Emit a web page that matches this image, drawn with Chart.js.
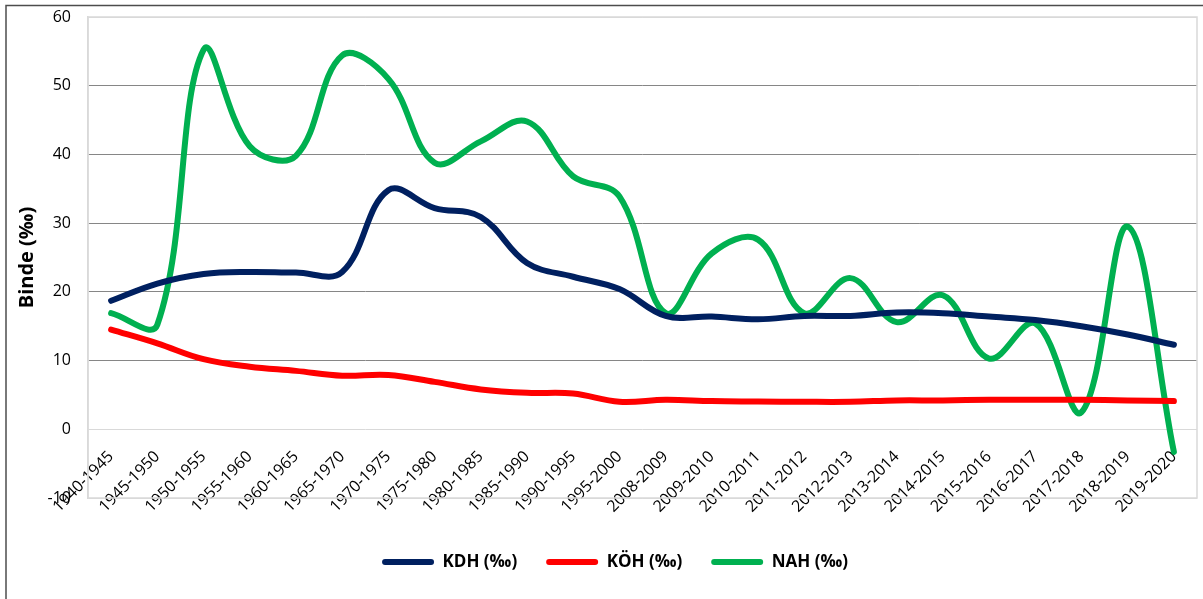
<!DOCTYPE html>
<html>
<head>
<meta charset="utf-8">
<script src="https://cdn.jsdelivr.net/npm/chart.js@4.4.1/dist/chart.umd.min.js"></script>
<style>
  html, body { margin: 0; padding: 0; background: #fff; }
  #wrap { width: 1203px; height: 599px; position: relative; }
</style>
</head>
<body>
<div id="wrap"><canvas id="chart"></canvas></div>
<script>
// periods on the x axis
const periods = ['1940-1945', '1945-1950', '1950-1955', '1955-1960', '1960-1965', '1965-1970',
    '1970-1975', '1975-1980', '1980-1985', '1985-1990', '1990-1995', '1995-2000',
    '2008-2009', '2009-2010', '2010-2011', '2011-2012', '2012-2013', '2013-2014',
    '2014-2015', '2015-2016', '2016-2017', '2017-2018', '2018-2019', '2019-2020'];

// values in per mille
const kdh = [18.7, 21.2, 22.6, 22.9, 22.8, 22.9, 34.8, 32.2, 30.9, 24.2, 22.2, 20.4,
    16.5, 16.4, 16.0, 16.5, 16.5, 17.0, 16.9, 16.4, 15.9, 15.0, 13.8, 12.3];
const koh = [14.5, 12.5, 10.2, 9.1, 8.5, 7.8, 7.9, 6.9, 5.8, 5.3, 5.2, 4.0,
    4.3, 4.1, 4.05, 4.0, 4.0, 4.2, 4.2, 4.3, 4.3, 4.3, 4.2, 4.1];
const nah = [16.9, 15.2, 55.2, 41.2, 39.8, 54.4, 51.0, 38.8, 41.9, 44.8, 36.8, 33.9,
    16.9, 25.6, 27.6, 16.9, 22.0, 15.6, 19.5, 10.3, 15.4, 2.5, 29.5, -3.3];

const seriesNames = ['KDH (‰)', 'KÖH (‰)', 'NAH (‰)'];
const seriesColors = ['#002060', '#ff0000', '#00b050'];
const yMin = -10, yMax = 60, yStep = 10;

const FONT = "'Open Sans', 'Liberation Sans', sans-serif";

// outer frame and plot-area border
const framePlugin = {
    id: 'frame',
    beforeDatasetsDraw(chart) {
        const { ctx, chartArea: a } = chart;
        ctx.save();
        ctx.strokeStyle = '#d9d9d9';
        ctx.lineWidth = 1.5;
        ctx.strokeRect(a.left, a.top, a.right - a.left, a.bottom - a.top);
        ctx.restore();
    },
    afterDraw(chart) {
        const ctx = chart.ctx;
        ctx.save();
        ctx.strokeStyle = '#4d4d4d';
        ctx.lineWidth = 1.5;
        ctx.strokeRect(6, 5.5, 1400, 800);
        ctx.restore();
    }
};

const datasets = [kdh, koh, nah].map((values, i) => ({
    label: seriesNames[i],
    data: values,
    borderColor: seriesColors[i],
    backgroundColor: seriesColors[i],
    borderWidth: 6,
    pointRadius: 0,
    tension: 0.38,
    borderCapStyle: 'round',
    borderJoinStyle: 'round',
    fill: false
}));

new Chart(document.getElementById('chart'), {
    type: 'line',
    data: { labels: periods, datasets },
    plugins: [framePlugin],
    options: {
        responsive: true,
        maintainAspectRatio: false,
        animation: false,
        layout: { padding: { top: 17, left: 33, right: 6, bottom: 18.5 } },
        plugins: {
            tooltip: { enabled: false },
            legend: {
                position: 'bottom',
                labels: {
                    boxWidth: 52,
                    boxHeight: 6,
                    useBorderRadius: true,
                    borderRadius: 3,
                    padding: 29,
                    color: '#000',
                    font: { family: FONT, size: 17, weight: 'bold' },
                    generateLabels(chart) {
                        return Chart.defaults.plugins.legend.labels.generateLabels(chart).map(l => {
                            l.fillStyle = l.strokeStyle;
                            l.lineWidth = 0;
                            return l;
                        });
                    }
                }
            }
        },
        scales: {
            x: {
                type: 'category',
                position: { y: 0 },
                offset: true,
                grid: { display: false, drawTicks: false },
                border: { display: false },
                ticks: {
                    autoSkip: false,
                    minRotation: 45,
                    maxRotation: 45,
                    padding: 18,
                    color: '#000',
                    font: { family: FONT, size: 16 }
                },
                afterFit(s) { s.paddingLeft = 0; s.paddingRight = 0; }
            },
            // empty axis that only reserves room between plot and legend
            xSpace: {
                type: 'category',
                axis: 'x',
                position: 'bottom',
                grid: { display: false, drawTicks: false },
                border: { display: false },
                ticks: { display: false },
                afterFit(s) { s.height = 26.5; }
            },
            y: {
                min: yMin,
                max: yMax,
                ticks: {
                    stepSize: yStep,
                    padding: 17,
                    color: '#000',
                    font: { family: FONT, size: 16 }
                },
                grid: {
                    drawTicks: false,
                    lineWidth: 1,
                    color: c => (c.tick && c.tick.value > yMin && c.tick.value < yMax && c.tick.value !== 0) ? '#868686' : '#d9d9d9'
                },
                border: { display: true, color: '#d9d9d9', width: 1.5 },
                title: {
                    display: true,
                    text: 'Binde (‰)',
                    color: '#000',
                    padding: { top: -18, bottom: 0 },
                    font: { family: FONT, size: 20, weight: 'bold' }
                },
                afterFit(s) { s.width = 55; s.paddingTop = 0; s.paddingBottom = 0; }
            }
        }
    }
});
</script>
</body>
</html>
